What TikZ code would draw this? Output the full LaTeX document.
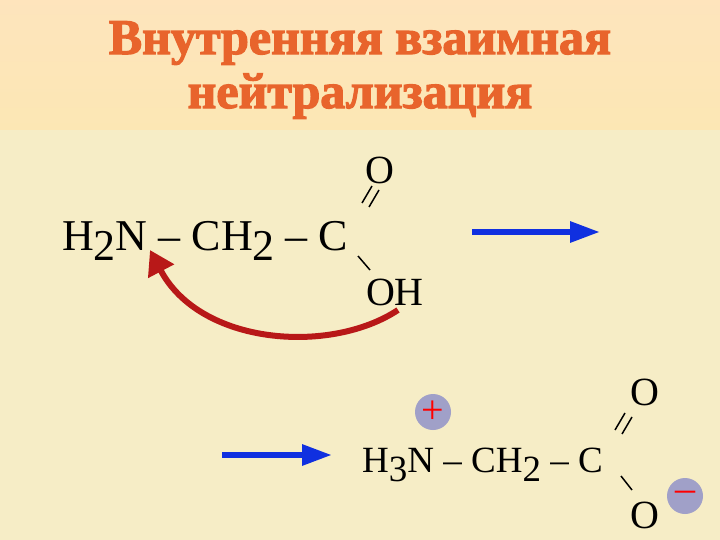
\documentclass[tikz,border=0pt]{standalone}
\usepackage{fontspec}
\setmainfont{Liberation Serif}
\newfontfamily\ttlfont[FakeBold=2.5]{Liberation Serif Bold}
\usetikzlibrary{arrows.meta}
\definecolor{bg}{HTML}{F6EDC6}
\definecolor{hdr}{HTML}{FCE7B4}
\definecolor{ttl}{HTML}{E8642C}
\definecolor{arrblue}{HTML}{1030E0}
\definecolor{arrred}{HTML}{B81818}
\definecolor{chg}{HTML}{A0A0C8}
\tikzset{
  chem/.style={font=\fontsize{44}{44}\selectfont, inner sep=0pt, anchor=base west},
  chemb/.style={font=\fontsize{37}{37}\selectfont, inner sep=0pt, anchor=base west},
  atom/.style={font=\fontsize{40}{40}\selectfont, inner sep=0pt},
  bond/.style={line width=1.5pt},
  rxn/.style={line width=6pt, arrblue, -{Triangle[length=30pt,width=20pt]}},
  charge/.style={circle, fill=chg, minimum size=36pt, inner sep=0pt, text=red, font=\fontsize{40}{40}\selectfont},
  ttlstyle/.style={font=\fontsize{50}{54}\ttlfont, text=ttl, align=center}
}
\begin{document}
\begin{tikzpicture}[x=1pt,y=-1pt]
\useasboundingbox (0,0) rectangle (720,540);
\fill[bg] (0,0) rectangle (720,540);
\shade[top color=hdr!80!orange!60, bottom color=hdr] (0,0) rectangle (720,130);
\node[ttlstyle] (title) at (360,70) {Внутренняя взаимная\\нейтрализация};
% first formula
\node[chem] (f1) at (62,250) {H\raisebox{-10pt}{2}N – CH\raisebox{-10pt}{2} – C};
\node[atom] (o1) at (380,170) {O};
\node[atom] (oh1) at (395,292) {OH};
\draw[bond] (362,203) -- (372,186);
\draw[bond] (369,207) -- (379,190);
\draw[bond] (358,256) -- (370,270);
\coordinate (a1s) at (472,232);
\coordinate (a1e) at (600,232);
\draw[rxn] (a1s) -- (a1e);
\coordinate (r1) at (398,310);
\coordinate (r2) at (150,250);
\draw[line width=6pt, arrred, -{Triangle[length=24pt,width=28pt]}] (r1) .. controls (330,355) and (200,345) .. (r2);
% second formula
\coordinate (a2s) at (222,455);
\coordinate (a2e) at (332,455);
\draw[rxn] (a2s) -- (a2e);
\node[chemb] (f2) at (362,472) {H\raisebox{-9pt}{3}N – CH\raisebox{-9pt}{2} – C};
\node[atom] (o2) at (645,392) {O};
\node[atom] (o3) at (645,515) {O};
\draw[bond] (615,430) -- (625,413);
\draw[bond] (622,434) -- (632,417);
\draw[bond] (621,476) -- (632,490);
\node[charge] (plus) at (433,412) {+};
\node[charge] (minus) at (685,496) {–};
\end{tikzpicture}
\end{document}
